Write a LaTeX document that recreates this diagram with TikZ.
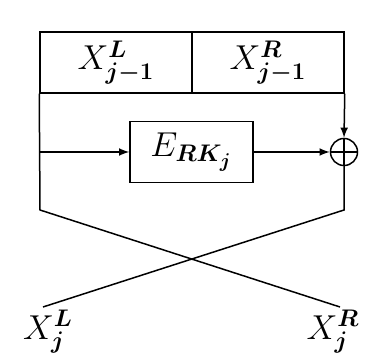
\documentclass[tikz,border=0pt]{standalone}
\usepackage{tikz}
\usetikzlibrary{calc,arrows,positioning,shapes}
\usepackage{amsmath}
\usepackage{amssymb}
\newcommand{\bsc}[1]{\boldsymbol{#1}}
\tikzset{
  halfbox/.style={draw, rectangle, minimum width=76pt, minimum height=30.5pt, inner sep=0pt, font=\LARGE},
  roundbox/.style={draw, rectangle, minimum width=61.5pt, minimum height=30.5pt, inner sep=0pt, font=\LARGE},
  xorsum/.style={draw, circle, minimum size=13.5pt, inner sep=0pt,
    path picture={\draw (path picture bounding box.north) -- (path picture bounding box.south)
      (path picture bounding box.west) -- (path picture bounding box.east);}},
  outlabel/.style={font=\LARGE, inner sep=0pt}
}
\begin{document}
\begin{tikzpicture}[x=0.5pt, y=-0.5pt, >=latex, line width=0.75pt]
  \useasboundingbox (0,0) rectangle (374,356);
  \node [halfbox] (left) at (116,62.5) {$X^{\bsc{L}}_{\bsc{j-1}}$};
  \node [halfbox] (right) at (268,62.5) {$X^{\bsc{R}}_{\bsc{j-1}}$};
  \node [roundbox] (func) at (191.5,152) {$E_{\bsc{RK_j}}$};
  \node [xorsum] (sum) at (344,152) {};
  \coordinate (lturn) at (40,210);
  \coordinate (rturn) at (344,210);
  \coordinate (lend) at (43,307);
  \coordinate (rend) at (340,307);
  \node [outlabel] (outl) at (48,332) {$X^{\bsc{L}}_{\bsc{j}}$};
  \node [outlabel] (outr) at (333,332) {$X^{\bsc{R}}_{\bsc{j}}$};

  \draw [->] (right.south east) -- (sum.north);
  \draw [->] (left.south west |- func.west) -- (func.west);
  \draw [->] (func.east) -- (sum.west);
  \draw (left.south west) -- (lturn) -- (rend);
  \draw (sum.south) -- (rturn) -- (lend);
\end{tikzpicture}
\end{document}
